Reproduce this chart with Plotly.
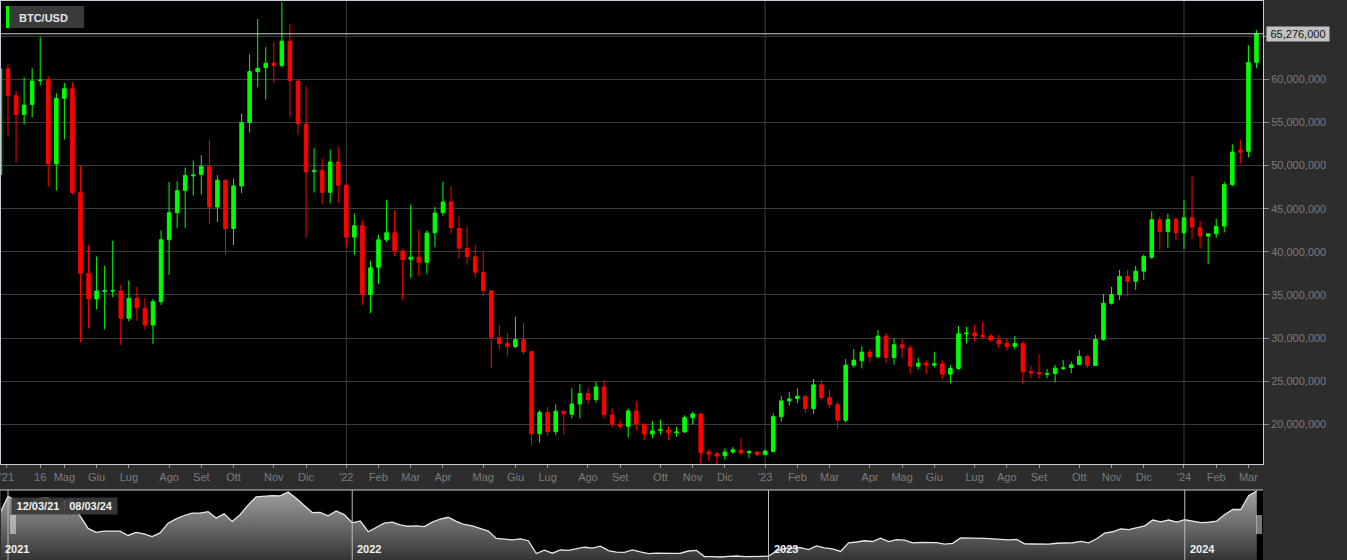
import pandas as pd
import plotly.graph_objects as go

# ---------------- data (weekly candles, values in thousands of chart units) -------------
start = pd.Timestamp("2021-03-12")
dates = pd.date_range(start, periods=157, freq="7D")

opens = [48953, 61202, 58101, 55930, 57093, 59830, 59961, 50194, 57791, 58915,
         46860, 37519, 34535, 35420, 35450, 35465, 32287, 34612, 33450, 31512,
         34225, 41400, 44535, 47093, 48800, 48953, 49922, 45194, 48295, 42713,
         47636, 55000, 60891, 61357, 61899, 61589, 64419, 59806, 54806, 49300,
         49419, 46899, 50426, 47713, 41705, 43023, 35039, 38217, 41395, 42209,
         40078, 39150, 39380, 38798, 42209, 44535, 45775, 42713, 40388, 39419,
         37597, 35465, 30039, 29380, 29031, 29806, 28411, 18915, 21395, 19147,
         21512, 21163, 22364, 23566, 22868, 24341, 21085, 20000, 19767, 21550,
         20000, 18876, 19300, 19341, 19031, 19109, 20775, 21202, 16783, 16589,
         16357, 16783, 17016, 16705, 16783, 16473, 16860, 20891, 22713, 22984,
         23256, 21822, 24574, 23101, 22287, 20465, 26860, 27364, 28372, 27829,
         30233, 27752, 29225, 28837, 26744, 27093, 26860, 27016, 25814, 26473,
         30504, 30581, 30310, 30233, 29767, 29380, 29031, 29380, 26124, 26008,
         25814, 25891, 26473, 26589, 26938, 27868, 26822, 29845, 34031, 35039,
         37132, 36589, 37752, 39380, 43721, 42364, 43760, 42209, 43953, 42791,
         41822, 42093, 42984, 47791, 51800, 51650, 61971]
highs = [61744, 61744, 58682, 60233, 61279, 64884, 60349, 58372, 59574, 59690,
         49961, 40814, 39457, 38372, 41279, 36163, 36667, 35930, 34651, 34535,
         42481, 48101, 48178, 49767, 50581, 51202, 52946, 48876, 48400, 48488,
         56047, 62907, 66977, 63721, 64302, 68953, 66395, 59900, 59186, 52016,
         50814, 51860, 52171, 47900, 44419, 43643, 38953, 41977, 45969, 44806,
         40349, 45465, 42558, 42481, 45194, 48140, 47597, 44070, 42984, 40814,
         39961, 35600, 31512, 30581, 32481, 31744, 28527, 21667, 22016, 22326,
         21600, 24186, 24651, 24186, 24922, 25116, 21860, 20465, 21822, 22713,
         20100, 20388, 20543, 19767, 19690, 21047, 21434, 21300, 17093, 16822,
         17209, 17364, 18372, 17016, 16899, 17093, 21279, 23295, 23760, 24186,
         23372, 25271, 25155, 23992, 22636, 27558, 28721, 29070, 28721, 30930,
         30581, 30000, 29884, 29186, 27713, 27442, 28411, 27403, 26860, 31395,
         31318, 31550, 31860, 30465, 30349, 29961, 30233, 29651, 26744, 28140,
         26395, 26860, 27442, 27287, 28605, 28101, 30388, 35116, 35930, 37907,
         37907, 38372, 39690, 44690, 44109, 44419, 44031, 45969, 48721, 43566,
         42171, 43837, 48101, 52464, 52928, 63942, 65681]
lows = [48700, 53333, 50349, 54767, 55581, 59302, 47558, 47093, 53023, 46667,
        29496, 31124, 33333, 31008, 34729, 29186, 31938, 32016, 31008, 29302,
        33837, 37326, 42752, 42752, 46512, 46628, 43256, 43450, 39690, 40775,
        46822, 53837, 59070, 57674, 59535, 61357, 55659, 53605, 41628, 46860,
        45504, 45620, 45659, 40543, 39651, 33837, 32907, 36279, 41124, 39496,
        34419, 36977, 37209, 37442, 40543, 44186, 42093, 39186, 38488, 37054,
        34806, 26512, 28643, 27946, 28837, 28140, 17597, 17868, 18643, 18760,
        18837, 20698, 20698, 22326, 22519, 20698, 19612, 19419, 18450, 19302,
        18140, 18372, 18837, 18140, 18566, 19031, 20000, 15465, 15736, 15349,
        15891, 16589, 16434, 16124, 16279, 16434, 16783, 20310, 22171, 22442,
        21318, 21240, 22791, 21860, 19496, 20194, 26589, 26473, 27171, 27636,
        27093, 26899, 27674, 25814, 26357, 25814, 26589, 25233, 24767, 26279,
        29380, 29612, 29884, 29574, 28837, 28605, 28682, 24651, 25349, 25233,
        25349, 24845, 26279, 25930, 26900, 26512, 26744, 29690, 33876, 34419,
        34806, 35581, 36744, 39147, 40233, 40465, 41318, 40310, 41550, 40349,
        38605, 41628, 42248, 47600, 50233, 50957, 61310]
closes = [61202, 58101, 55930, 57016, 59806, 59900, 50194, 57791, 58915, 46860,
          37519, 34535, 35465, 35500, 35500, 32287, 34612, 33488, 31512, 34225,
          41395, 44535, 47093, 48837, 48900, 49922, 45194, 48295, 42713, 47636,
          55000, 60891, 61279, 61860, 61589, 64419, 59845, 54845, 49264, 49400,
          46899, 50426, 47713, 41705, 43023, 35039, 38140, 41395, 42209, 40155,
          39109, 39380, 38798, 42171, 44496, 45775, 42791, 40426, 39457, 37636,
          35504, 30078, 29380, 29031, 29806, 28411, 18915, 21395, 19147, 21512,
          21202, 22364, 23566, 22868, 24341, 21124, 20000, 19767, 21550, 20039,
          18876, 19225, 19380, 19031, 19110, 20775, 21202, 16705, 16550, 16318,
          16783, 17054, 16667, 16822, 16512, 16899, 20891, 22713, 22946, 23256,
          21822, 24574, 23101, 22287, 20465, 26860, 27442, 28372, 27829, 30233,
          27752, 29225, 28876, 26744, 27093, 26860, 27016, 25814, 26473, 30504,
          30581, 30271, 30194, 29767, 29341, 29031, 29380, 26085, 25969, 25853,
          25891, 26512, 26550, 26899, 27868, 26860, 29845, 34031, 35039, 37132,
          36589, 37752, 39457, 43721, 42364, 43760, 42209, 43953, 42868, 41822,
          42093, 42946, 47791, 51571, 51550, 61936, 65276]

tick_dates = ["2021-03-18", "2021-04-16", "2021-05-07", "2021-06-04", "2021-07-02",
              "2021-08-06", "2021-09-03", "2021-10-01", "2021-11-05", "2021-12-03",
              "2022-01-07", "2022-02-04", "2022-03-04", "2022-04-01", "2022-05-06",
              "2022-06-03", "2022-07-01", "2022-08-05", "2022-09-02", "2022-10-07",
              "2022-11-04", "2022-12-02", "2023-01-06", "2023-02-03", "2023-03-03",
              "2023-04-07", "2023-05-05", "2023-06-02", "2023-07-07", "2023-08-04",
              "2023-09-01", "2023-10-06", "2023-11-03", "2023-12-01", "2024-01-05",
              "2024-02-02", "2024-03-01"]
tick_labels = ["'21", "16", "Mag", "Giu", "Lug", "Ago", "Set", "Ott", "Nov", "Dic",
               "'22", "Feb", "Mar", "Apr", "Mag", "Giu", "Lug", "Ago", "Set", "Ott",
               "Nov", "Dic", "'23", "Feb", "Mar", "Apr", "Mag", "Giu", "Lug", "Ago",
               "Set", "Ott", "Nov", "Dic", "'24", "Feb", "Mar"]

price_ticks = [20000, 25000, 30000, 35000, 40000, 45000, 50000, 55000, 60000, 65000]
symbol = "BTC/USD"

# ---------------- styling / layout helpers -------------
W, H = 1347, 560
PL, PR = 1, 1263
UP, DOWN = "#00ff00", "#ff0000"
PANEL = "#2d2d2d"
GRID = "#3b3b3b"
TXT = "#7b7b7b"
BORDER = "#c9c9d6"
FONT = "Liberation Sans, Arial, sans-serif"


def px2x(px):
    return (px - PL) / (PR - PL)


def py2y(py):
    return 1 - py / H


week = pd.Timedelta(days=7)
first_of_year = [dates[i] for i in range(len(dates)) if i == 0 or dates[i].year != dates[i - 1].year]

fig = go.Figure()

fig.add_trace(go.Candlestick(
    x=dates, open=opens, high=highs, low=lows, close=closes,
    increasing=dict(line=dict(color=UP, width=1), fillcolor=UP),
    decreasing=dict(line=dict(color=DOWN, width=1), fillcolor=DOWN),
    whiskerwidth=0, showlegend=False, xaxis="x", yaxis="y", hoverinfo="skip"))

nav_x = [dates[0] - week] + list(dates)
nav_y = [opens[0]] + closes
fig.add_trace(go.Scatter(
    x=nav_x, y=nav_y, mode="lines", xaxis="x2", yaxis="y2", showlegend=False,
    line=dict(color="#e6e6e6", width=1.3), fill="tozeroy",
    fillgradient=dict(type="vertical", colorscale=[[0, "#343434"], [1, "#a2a2a2"]],
                      start=14100, stop=66000),
    hoverinfo="skip"))

fig.update_layout(
    width=W, height=H,
    margin=dict(l=PL, r=W - PR, t=0, b=0, pad=0),
    paper_bgcolor=PANEL, plot_bgcolor="black",
    boxgap=0.37,
    font=dict(family=FONT, size=11, color=TXT),
    xaxis=dict(
        type="date", domain=[0, 1], anchor="y",
        range=[start + pd.Timedelta(days=0.92), start + pd.Timedelta(days=1097.66)],
        rangeslider=dict(visible=False),
        tickmode="array", tickvals=tick_dates, ticktext=tick_labels, tickangle=0,
        ticklabeloverflow="allow",
        ticks="outside", ticklen=3, tickcolor="#9a9a9a",
        tickfont=dict(family=FONT, size=11, color=TXT),
        showgrid=False, zeroline=False,
        showline=True, linecolor=BORDER, linewidth=1, mirror=True, fixedrange=True),
    yaxis=dict(
        domain=[py2y(464), py2y(1)], anchor="x", side="right",
        range=[15400, 69080],
        tickmode="array", tickvals=price_ticks,
        ticktext=[f"{v * 1000:,}" if v <= 60000 else "" for v in price_ticks],
        ticks="outside", ticklen=5, tickcolor="#8a8a8a",
        tickfont=dict(family=FONT, size=11, color=TXT),
        showgrid=True, gridcolor=GRID, gridwidth=1, zeroline=False,
        showline=True, linecolor=BORDER, linewidth=1, mirror=True, fixedrange=True),
    xaxis2=dict(
        type="date", domain=[0, 1], anchor="y2",
        range=[start - pd.Timedelta(days=6.12), start + pd.Timedelta(days=1097.4)],
        visible=False, fixedrange=True),
    yaxis2=dict(domain=[0, py2y(490)], anchor="x2", range=[14100, 66000],
                visible=False, fixedrange=True),
)

shapes = []
# yearly vertical grid lines in the main chart
for d in first_of_year[1:]:
    shapes.append(dict(type="line", xref="x", yref="y domain", x0=d, x1=d, y0=0, y1=1,
                       line=dict(color=GRID, width=1), layer="below"))
# last price line
shapes.append(dict(type="line", xref="paper", yref="y", x0=0, x1=1,
                   y0=closes[-1], y1=closes[-1], line=dict(color="#d0d0d0", width=1)))
# navigator: year lines, border
for d in first_of_year:
    shapes.append(dict(type="line", xref="x2", yref="y2 domain", x0=d, x1=d, y0=0, y1=1,
                       line=dict(color="#bdbdbd", width=1)))
shapes.append(dict(type="line", xref="paper", yref="paper", x0=px2x(0), x1=1,
                   y0=py2y(490), y1=py2y(490), line=dict(color=BORDER, width=1)))
# navigator handles
for hx in (11, 13, 15, 1257, 1259, 1261):
    shapes.append(dict(type="line", xref="paper", yref="paper", x0=px2x(hx), x1=px2x(hx),
                       y0=py2y(515), y1=py2y(534), line=dict(color="#f2f2f2", width=1)))
# legend box
shapes.append(dict(type="rect", xref="paper", yref="paper", x0=px2x(6), x1=px2x(84),
                   y0=py2y(28), y1=py2y(6), fillcolor="#3a3a3a", line=dict(width=0)))
shapes.append(dict(type="rect", xref="paper", yref="paper", x0=px2x(6), x1=px2x(9),
                   y0=py2y(28), y1=py2y(6), fillcolor=UP, line=dict(width=0)))
fig.update_layout(shapes=shapes)

ann = []
ann.append(dict(text=f"<b>{symbol}</b>", xref="paper", yref="paper", x=px2x(17), y=py2y(17.5),
                xanchor="left", yanchor="middle", showarrow=False,
                font=dict(family=FONT, size=11, color="#e4e4e4")))
ann.append(dict(text=f"{closes[-1] * 1000:,}", xref="paper", yref="y", x=px2x(1266),
                y=closes[-1], xanchor="left", yanchor="middle", showarrow=False,
                bgcolor="#c2c2c2", borderpad=1, width=60, height=12,
                font=dict(family=FONT, size=11, color="#141414")))
for k, d in enumerate(first_of_year):
    ann.append(dict(text=f"<b>{d.year}</b>", xref="x2", yref="paper", x=d,
                    y=py2y(549), xanchor="left", yanchor="middle", showarrow=False,
                    xshift=-5 if k == 0 else 3,
                    font=dict(family=FONT, size=11, color="#f0f0f0")))
for txt, xl in ((dates[0].strftime("%d/%m/%y"), 11), (dates[-1].strftime("%d/%m/%y"), 64)):
    ann.append(dict(text=f"<b>{txt}</b>", xref="paper", yref="paper", x=px2x(xl),
                    y=py2y(506), xanchor="left", yanchor="middle", showarrow=False,
                    bgcolor="rgba(58,58,58,0.93)", width=50, height=14, borderpad=1,
                    font=dict(family=FONT, size=11, color="#f0f0f0")))
fig.update_layout(annotations=ann)

fig.write_html("out.html", config={"displayModeBar": False},
               post_script="document.body.style.margin='0';document.body.style.overflow='hidden';")
